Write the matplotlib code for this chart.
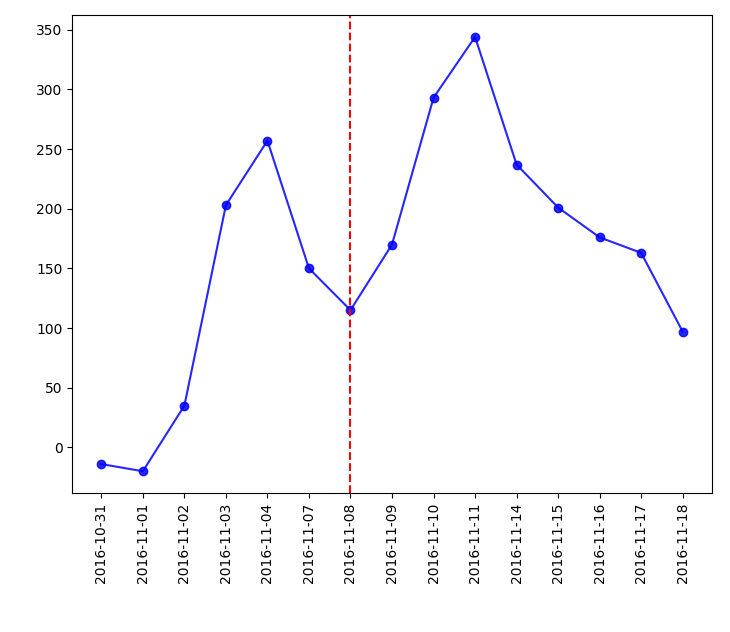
import matplotlib
matplotlib.use("Agg")
import matplotlib.pyplot as plt

dates = ["2016-10-31", "2016-11-01", "2016-11-02", "2016-11-03", "2016-11-04",
         "2016-11-07", "2016-11-08", "2016-11-09", "2016-11-10", "2016-11-11",
         "2016-11-14", "2016-11-15", "2016-11-16", "2016-11-17", "2016-11-18"]
values = [-14, -20, 35, 203, 257, 150, 115, 170, 293, 344, 237, 201, 176, 163, 97]
marker_date = "2016-11-08"

fig = plt.figure(figsize=(7.3, 6.32), dpi=100)
ax = fig.add_axes([0.099, 0.22, 0.876, 0.756])

ax.plot(dates, values, "bo-", alpha=0.85)
ax.axvline(dates.index(marker_date), color="r", linestyle="--")
plt.setp(ax.get_xticklabels(), rotation=90)

fig.savefig("out.png", dpi=100)
